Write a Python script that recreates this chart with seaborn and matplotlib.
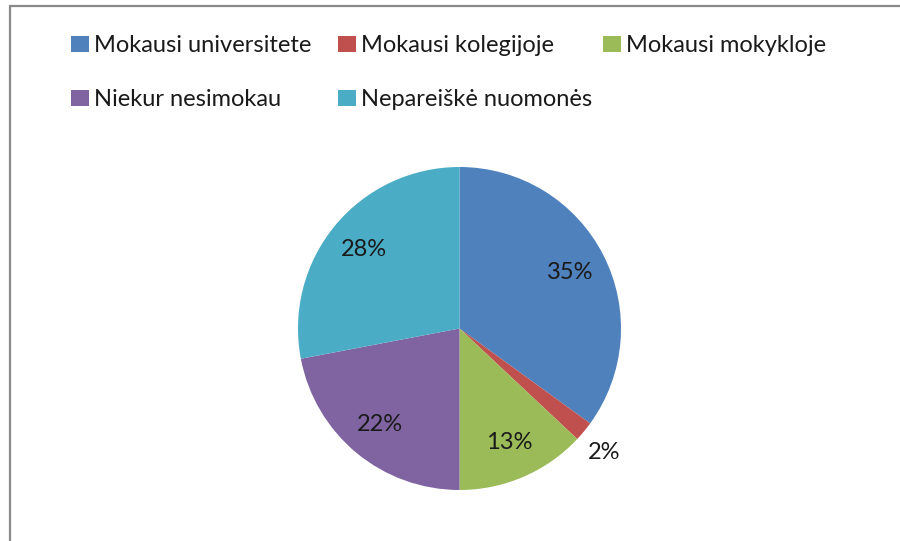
import numpy as np
import matplotlib
matplotlib.use("Agg")
import matplotlib.pyplot as plt
import seaborn as sns
from matplotlib.patches import Patch
from matplotlib.lines import Line2D

sns.set_theme(style="white")
plt.rcParams['font.family'] = ['Lato', 'DejaVu Sans']

# duomenys
kategorijos = ["Mokausi universitete", "Mokausi kolegijoje", "Mokausi mokykloje",
               "Niekur nesimokau", "Nepareiškė nuomonės"]
procentai = [35, 2, 13, 22, 28]
spalvos = ["#4F81BD", "#C0504D", "#9BBB59", "#8064A2", "#4BACC6"]

fig = plt.figure(figsize=(9, 5.41), dpi=100)
fig.patch.set_facecolor("white")

# pyrago ašys
ax = fig.add_axes([298 / 900, 51 / 541, 323 / 900, 323 / 541])
wedges, texts, autotexts = ax.pie(procentai, colors=spalvos, startangle=90,
                                  counterclock=False, autopct="%d%%",
                                  pctdistance=0.77,
                                  wedgeprops=dict(linewidth=0),
                                  textprops=dict(fontsize=17, color="#1a1a1a"))
ax.set_xlim(-1, 1)
ax.set_ylim(-1, 1)
ax.set_aspect("equal")

# mažas sektorius - etiketė už pyrago ribų
for w, t, v in zip(wedges, autotexts, procentai):
    if v < 5:
        ang = np.deg2rad((w.theta1 + w.theta2) / 2)
        t.set_position((1.16 * np.cos(ang), 1.2 * np.sin(ang)))

# legenda - trys stulpeliai
stulpeliai = [[0, 3], [1, 4], [2]]
x_pos = [71, 338, 603]
for idx, x in zip(stulpeliai, x_pos):
    h = [Patch(facecolor=spalvos[i], edgecolor="none") for i in idx]
    l = [kategorijos[i] for i in idx]
    leg = fig.legend(h, l, loc="upper left", bbox_to_anchor=(x / 900, 1 - 35 / 541),
                     frameon=False, fontsize=17, handlelength=0.78, handleheight=0.65,
                     handletextpad=0.2, labelspacing=1.4, borderaxespad=0,
                     borderpad=0)
    for txt in leg.get_texts():
        txt.set_color("#1a1a1a")

# rėmelis
fig.add_artist(Line2D([10 / 900, 10 / 900], [0, 1 - 6 / 541], color="#8a8a8a", lw=1.6))
fig.add_artist(Line2D([10 / 900, 1], [1 - 6 / 541, 1 - 6 / 541], color="#8a8a8a", lw=1.6))

fig.savefig("out.png", dpi=100, facecolor="white")
